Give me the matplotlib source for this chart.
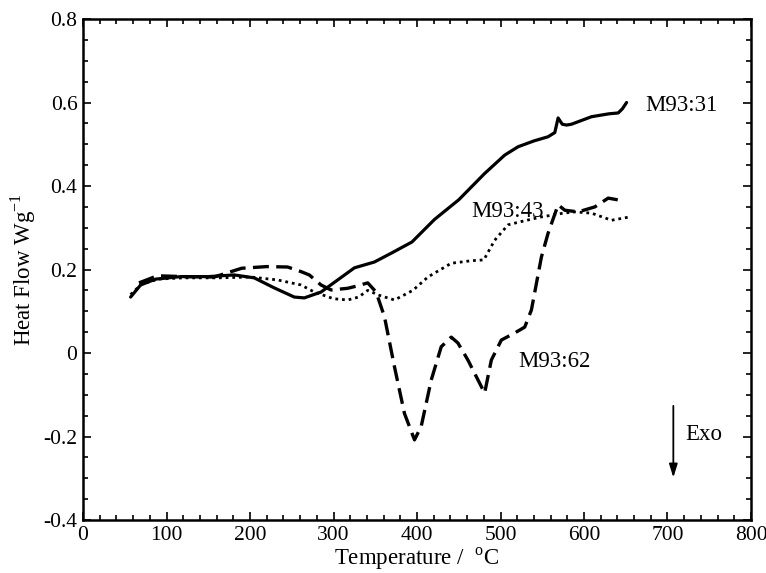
import matplotlib
matplotlib.use("Agg")
import matplotlib.pyplot as plt
from matplotlib.ticker import MultipleLocator, FuncFormatter

# M93:31 (solid)
temp_31 = [57, 69, 87, 117, 150, 181, 205, 229, 253, 265, 285, 305, 325, 349, 370, 394, 421,
           450, 481, 505, 521, 540, 557, 565, 569, 574, 579, 585, 609, 630, 641, 646, 651]
heat_31 = [0.134, 0.163, 0.177, 0.183, 0.183, 0.187, 0.180, 0.156, 0.134, 0.132, 0.146, 0.175,
           0.204, 0.218, 0.240, 0.266, 0.320, 0.367, 0.430, 0.474, 0.494, 0.508, 0.518, 0.528,
           0.563, 0.548, 0.546, 0.548, 0.566, 0.573, 0.575, 0.585, 0.600]

# M93:43 (dotted)
temp_43 = [57, 70, 90, 120, 160, 201, 233, 261, 277, 300, 317, 330, 341, 355, 373, 395, 413,
           441, 465, 480, 493, 509, 525, 549, 561, 575, 589, 609, 633, 655]
heat_43 = [0.140, 0.165, 0.177, 0.180, 0.180, 0.182, 0.175, 0.163, 0.146, 0.130, 0.127, 0.134,
           0.150, 0.138, 0.127, 0.150, 0.182, 0.215, 0.221, 0.223, 0.270, 0.307, 0.315, 0.326,
           0.330, 0.335, 0.338, 0.335, 0.318, 0.326]

# M93:62 (dashed)
temp_62 = [67, 89, 120, 157, 190, 220, 245, 261, 271, 285, 297, 317, 327, 341, 351, 361, 373,
           385, 397, 405, 417, 429, 441, 449, 461, 481, 489, 501, 517, 529, 537, 549, 557, 569,
           577, 593, 613, 629, 643]
heat_62 = [0.168, 0.185, 0.183, 0.182, 0.203, 0.207, 0.206, 0.195, 0.187, 0.163, 0.151, 0.155,
           0.160, 0.168, 0.146, 0.087, -0.033, -0.145, -0.208, -0.176, -0.065, 0.015, 0.038,
           0.024, -0.017, -0.096, -0.017, 0.031, 0.048, 0.062, 0.103, 0.230, 0.287, 0.355,
           0.342, 0.338, 0.350, 0.371, 0.366]

plt.rcParams['font.family'] = ['Liberation Serif', 'DejaVu Serif']
plt.rcParams['mathtext.fontset'] = 'custom'
plt.rcParams['mathtext.rm'] = 'Liberation Serif'

fig = plt.figure(figsize=(7.66, 5.73), dpi=100)
ax = fig.add_axes([0.1084, 0.0925, 0.872, 0.8743])

ax.plot(temp_31, heat_31, color='black', lw=2.3, solid_capstyle='round', solid_joinstyle='round')
ax.plot(temp_43, heat_43, color='black', lw=2.0, linestyle=(0, (1, 1.4)))
ax.plot(temp_62, heat_62, color='black', lw=2.4, linestyle=(0, (4.8, 2.2)))

ax.text(673, 0.594, 'M93:31', fontsize=16.5, va='center', ha='left')
ax.text(465, 0.338, 'M93:43', fontsize=16.5, va='center', ha='left')
ax.text(521, -0.02, 'M93:62', fontsize=16.5, va='center', ha='left')

# exotherm direction arrow
ax.annotate('', xy=(707, -0.305), xytext=(707, -0.12),
            arrowprops=dict(arrowstyle='-|>,head_length=0.8,head_width=0.25', color='black', lw=1.3))
ax.text(721, -0.196, 'Exo', fontsize=16.5, va='center', ha='left')

ax.set_xlim(0, 800)
ax.set_ylim(-0.4, 0.8)
ax.xaxis.set_major_locator(MultipleLocator(100))
ax.xaxis.set_minor_locator(MultipleLocator(20))
ax.yaxis.set_major_locator(MultipleLocator(0.2))
ax.yaxis.set_minor_locator(MultipleLocator(0.05))
ax.yaxis.set_major_formatter(FuncFormatter(lambda v, p: '0' if abs(v) < 1e-9 else f'{v:.1f}'))

ax.tick_params(which='both', direction='in', top=True, right=True, labelsize=15.5, width=1.2)
ax.tick_params(which='major', length=6, pad=4)
ax.tick_params(which='minor', length=3.5)
for s in ax.spines.values():
    s.set_linewidth(1.8)

ax.set_xlabel('Temperature /  $^{\\mathrm{o}}$C', fontsize=16.5, labelpad=1)
ax.set_ylabel('Heat Flow Wg$^{\\mathrm{-1}}$', fontsize=16.5, labelpad=4)

plt.savefig('out.png', dpi=100)
